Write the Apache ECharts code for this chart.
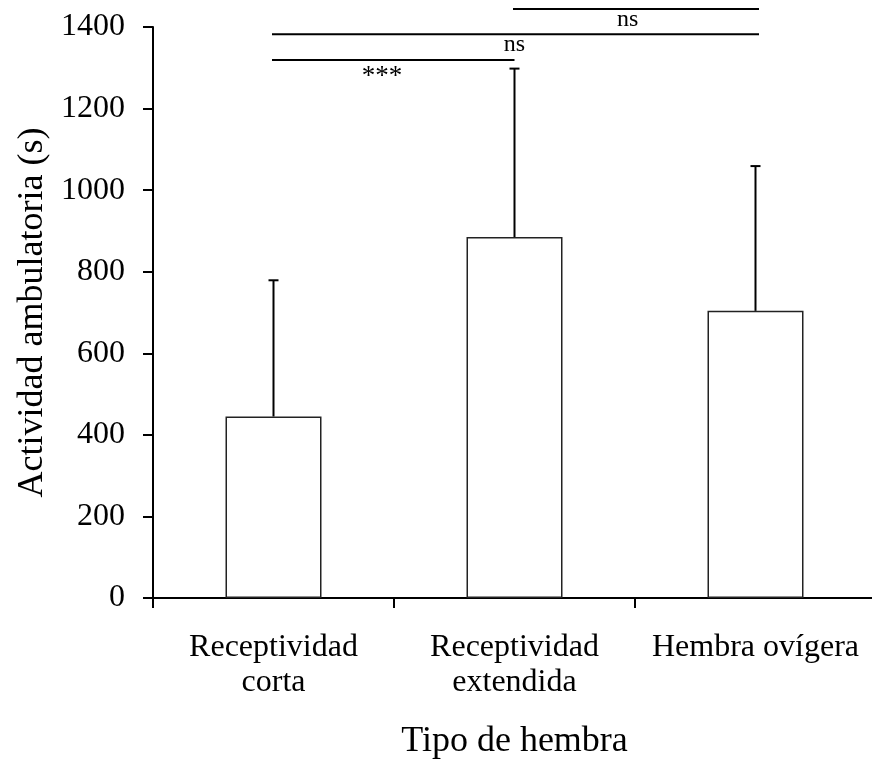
<!DOCTYPE html>
<html>
<head>
<meta charset="utf-8">
<title>Actividad ambulatoria por tipo de hembra</title>
<script src="https://cdn.jsdelivr.net/npm/echarts@6/dist/echarts.min.js"></script>
<style>
  html, body { margin: 0; padding: 0; background: #fff; }
  #chart { width: 872px; height: 761px; }
</style>
</head>
<body>
<div id="chart"></div>
<script>
// Female type categories and mean ambulatory activity (s) with upper error (SD)
const categories = ['Receptividad\ncorta', 'Receptividad\nextendida', 'Hembra ovígera'];
const means = [445, 885, 704];
const errors = [334, 413, 355];
const yTicks = { min: 0, max: 1400, interval: 200 };

// Significance brackets: categories joined, height in axis units, label and label position
const bracketFrom = [0, 0, 1];
const bracketTo = [1, 2, 2];
const bracketLevel = [1319, 1382, 1444];
const bracketText = ['***', 'ns', 'ns'];
const bracketTextAt = [0.45, 1.0, 1.47];

const FONT = "'Liberation Serif', 'Times New Roman', serif";

const chart = echarts.init(document.getElementById('chart'), null, { renderer: 'canvas' });

const option = {
  animation: false,
  backgroundColor: '#ffffff',
  grid: {
    left: 153, top: 27, bottom: 163, width: 723,
    containLabel: false, outerBoundsMode: 'none'
  },
  xAxis: {
    type: 'category',
    data: categories,
    name: 'Tipo de hembra',
    nameLocation: 'middle',
    nameGap: 126,
    nameTextStyle: { fontFamily: FONT, fontSize: 36, color: '#000' },
    axisLine: { lineStyle: { color: '#000', width: 2 } },
    axisTick: { show: true, inside: false, length: 10, lineStyle: { color: '#000', width: 2 } },
    axisLabel: {
      fontFamily: FONT, fontSize: 32, color: '#000', lineHeight: 35, margin: 32,
      interval: 0, hideOverlap: false
    },
    splitLine: { show: false }
  },
  yAxis: {
    type: 'value',
    min: yTicks.min,
    max: yTicks.max,
    interval: yTicks.interval,
    name: 'Actividad ambulatoria (s)',
    nameLocation: 'middle',
    nameGap: 102,
    nameTextStyle: { fontFamily: FONT, fontSize: 36, color: '#000' },
    axisLine: { show: true, lineStyle: { color: '#000', width: 2 } },
    axisTick: { show: true, inside: false, length: 10, lineStyle: { color: '#000', width: 2 } },
    axisLabel: {
      fontFamily: FONT, fontSize: 32, color: '#000', margin: 28,
      formatter: function (v) { return String(v); }
    },
    splitLine: { show: false }
  },
  series: [
    {
      type: 'bar',
      data: means,
      barWidth: 96,
      itemStyle: { color: '#ffffff', borderColor: '#222', borderWidth: 1.5 },
      z: 2
    },
    {
      type: 'custom',
      data: means.map((m, i) => [i, m, m + errors[i]]),
      encode: { x: 0, y: [1, 2] },
      z: 3,
      renderItem: function (params, api) {
        const base = api.coord([api.value(0), api.value(1)]);
        const top = api.coord([api.value(0), api.value(2)]);
        const cap = 5;
        const style = { stroke: '#000', lineWidth: 2 };
        return {
          type: 'group',
          children: [
            { type: 'line', shape: { x1: base[0], y1: base[1], x2: top[0], y2: top[1] }, style: style },
            { type: 'line', shape: { x1: top[0] - cap, y1: top[1], x2: top[0] + cap, y2: top[1] }, style: style }
          ]
        };
      }
    }
  ]
};

chart.setOption(option);

// Bracket lines and their labels, placed through the axes' own scales
function catX(pos) {
  const i = Math.floor(pos);
  const f = pos - i;
  const a = chart.convertToPixel({ xAxisIndex: 0 }, i);
  if (f === 0) return a;
  const b = chart.convertToPixel({ xAxisIndex: 0 }, i + 1);
  return a + (b - a) * f;
}

const graphics = [];
for (let k = 0; k < bracketText.length; k++) {
  const x1 = catX(bracketFrom[k]) - 1.5;
  const x2 = catX(bracketTo[k]) + (bracketTo[k] === 2 ? 3.5 : 0);
  const y = chart.convertToPixel({ yAxisIndex: 0 }, bracketLevel[k]);
  graphics.push({
    type: 'line',
    shape: { x1: x1, y1: y, x2: x2, y2: y },
    style: { stroke: '#000', lineWidth: 2 },
    z: 10
  });
  const isStar = bracketText[k] === '***';
  graphics.push({
    type: 'text',
    x: catX(bracketTextAt[k]),
    y: y + (isStar ? 17 : 10.5),
    style: {
      text: bracketText[k],
      fontFamily: FONT,
      fontSize: isStar ? 27 : 24,
      fill: '#000',
      align: 'center',
      verticalAlign: 'middle'
    },
    z: 10
  });
}
chart.setOption({ graphic: graphics });
</script>
</body>
</html>
